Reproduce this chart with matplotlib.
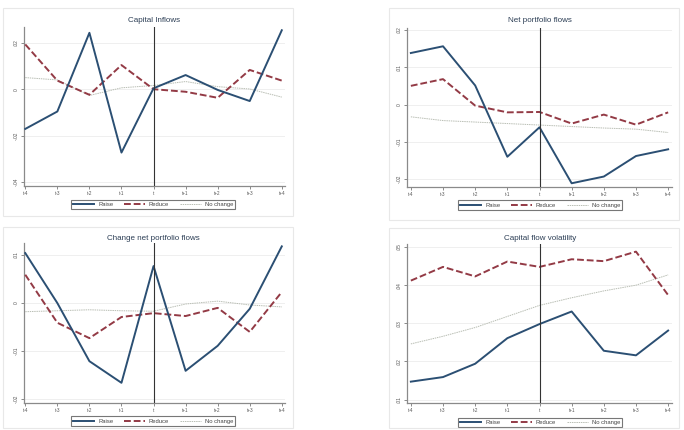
import matplotlib
matplotlib.use('Agg')
import matplotlib.pyplot as plt
import matplotlib.patches as mpatches
from matplotlib.ticker import FuncFormatter

plt.rcParams['font.family'] = ['Liberation Sans', 'DejaVu Sans']

# ── data ──────────────────────────────────────────────
periods = ['t-4', 't-3', 't-2', 't-1', 't', 't+1', 't+2', 't+3', 't+4']
series_names = ['Raise', 'Reduce', 'No change']

inflows_raise = [-0.0171, -0.0096, 0.0243, -0.0273, 0.0004, 0.0061, -0.0003, -0.0051, 0.0254]
inflows_reduce = [0.0193, 0.0037, -0.0024, 0.0104, 0.0000, -0.0011, -0.0037, 0.0083, 0.0037]
inflows_nochg = [0.0050, 0.0040, -0.0027, 0.0006, 0.0016, 0.0033, 0.0011, 0.0001, -0.0034]

netport_raise = [0.0138, 0.0156, 0.0051, -0.0140, -0.0061, -0.0211, -0.0193, -0.0138, -0.0120]
netport_reduce = [0.0050, 0.0068, -0.0003, -0.0021, -0.0020, -0.0051, -0.0027, -0.0054, -0.0021]
netport_nochg = [-0.0033, -0.0043, -0.0047, -0.0051, -0.0055, -0.0059, -0.0063, -0.0066, -0.0075]

chg_raise = [0.0103, -0.0001, -0.0122, -0.0167, 0.0076, -0.0142, -0.0090, -0.0013, 0.0117]
chg_reduce = [0.0058, -0.0042, -0.0074, -0.0030, -0.0022, -0.0028, -0.0011, -0.0061, 0.0022]
chg_nochg = [-0.0019, -0.0017, -0.0015, -0.0017, -0.0018, -0.0003, 0.0003, -0.0005, -0.0009]

vol_raise = [0.0147, 0.0159, 0.0194, 0.0261, 0.0298, 0.0331, 0.0228, 0.0216, 0.0281]
vol_reduce = [0.0412, 0.0448, 0.0423, 0.0462, 0.0448, 0.0468, 0.0463, 0.0488, 0.0374]
vol_nochg = [0.0246, 0.0266, 0.0289, 0.0318, 0.0347, 0.0367, 0.0385, 0.0400, 0.0427]

titles = ['Capital Inflows', 'Net portfolio flows',
          'Change net portfolio flows', 'Capital flow volatility']
yticks_list = [[-0.04, -0.02, 0, 0.02],
               [-0.02, -0.01, 0, 0.01, 0.02],
               [-0.02, -0.01, 0, 0.01],
               [0.01, 0.02, 0.03, 0.04, 0.05]]

# ── style ─────────────────────────────────────────────
W, H = 684, 430
C_RAISE = '#2b4f73'
C_REDUCE = '#933a45'
C_NOCHG = '#b9beb4'
C_AXIS = '#8a8a8a'
C_GRID = '#ececec'
C_BOX = '#e8e8e8'


def stata_fmt(v, pos):
    if abs(v) < 1e-12:
        return '0'
    s = f'{v:.2f}'.rstrip('0')
    return s.replace('0.', '.')


fig = plt.figure(figsize=(W / 100, H / 100), dpi=100)
fig.patch.set_facecolor('white')

# panel frames (pixel coords: left, top, right, bottom)
boxes = [(3, 8, 293, 216), (389, 8, 679, 220), (3, 227, 293, 428), (389, 228, 679, 428)]
for l, t, r, b in boxes:
    fig.patches.append(mpatches.Rectangle(
        (l / W, 1 - b / H), (r - l) / W, (b - t) / H, transform=fig.transFigure,
        facecolor='none', edgecolor=C_BOX, linewidth=0.8, zorder=0))

# plot areas (pixel coords) + y limits
areas = [
    ((24, 27, 285, 186), (-0.0417, 0.0268), (-0.04, 8.10)),
    ((407, 28, 672, 187), (-0.0221, 0.0205), (-0.12, 8.12)),
    ((24, 243, 285, 403), (-0.0209, 0.0124), (-0.04, 8.10)),
    ((407, 244, 672, 403), (0.0091, 0.0508), (-0.12, 8.12)),
]
panel_data = [
    (inflows_raise, inflows_reduce, inflows_nochg),
    (netport_raise, netport_reduce, netport_nochg),
    (chg_raise, chg_reduce, chg_nochg),
    (vol_raise, vol_reduce, vol_nochg),
]
title_pos = [(154, 21), (540, 21), (153, 238), (540, 238)]
legend_pos = [(153, 204.5), (540, 205), (153, 421), (540, 422.5)]

x = list(range(len(periods)))

for i, ((l, t, r, b), ylim, xlim) in enumerate(areas):
    ax = fig.add_axes([l / W, 1 - b / H, (r - l) / W, (b - t) / H])
    ax.patch.set_alpha(0)
    raise_v, reduce_v, nochg_v = panel_data[i]

    ax.plot(x, raise_v, color=C_RAISE, lw=1.4, label=series_names[0], zorder=4)
    ax.plot(x, reduce_v, color=C_REDUCE, lw=1.4, ls=(0, (3.5, 1.5)),
            label=series_names[1], zorder=3)
    ax.plot(x, nochg_v, color=C_NOCHG, lw=0.7, ls=(0, (1.5, 0.8)),
            label=series_names[2], zorder=2)
    ax.axvline(4, color='#333333', lw=0.8, zorder=5)

    ax.set_xlim(*xlim)
    ax.set_ylim(*ylim)
    ax.set_xticks(x)
    ax.set_xticklabels(periods, fontsize=3.3, color='#555555')
    ax.set_yticks(yticks_list[i])
    ax.yaxis.set_major_formatter(FuncFormatter(stata_fmt))
    for lab in ax.get_yticklabels():
        lab.set_rotation(90)
        lab.set_va('center')
        lab.set_fontsize(3.5)
        lab.set_color('#555555')
    ax.grid(axis='y', color=C_GRID, lw=0.6)
    ax.set_axisbelow(True)
    for s in ('top', 'right'):
        ax.spines[s].set_visible(False)
    for s in ('left', 'bottom'):
        ax.spines[s].set_color(C_AXIS)
        ax.spines[s].set_linewidth(0.9)
    ax.tick_params(length=2.2, width=0.7, color=C_AXIS, pad=1.5)

    tx, ty = title_pos[i]
    fig.text(tx / W, 1 - ty / H, titles[i], fontsize=5.8, color='#2c3e55',
             ha='center', va='center')

    lx, ly = legend_pos[i]
    leg = ax.legend(loc='center', bbox_to_anchor=(lx / W, 1 - ly / H),
                    bbox_transform=fig.transFigure, ncol=3, fontsize=4.2,
                    frameon=True, fancybox=False, handlelength=3.6,
                    handletextpad=0.7, columnspacing=1.8, borderpad=0.35)
    leg.get_frame().set_edgecolor('#555555')
    leg.get_frame().set_linewidth(0.8)
    for txt in leg.get_texts():
        txt.set_color('#444444')

fig.savefig('out.png', dpi=100, facecolor='white')
